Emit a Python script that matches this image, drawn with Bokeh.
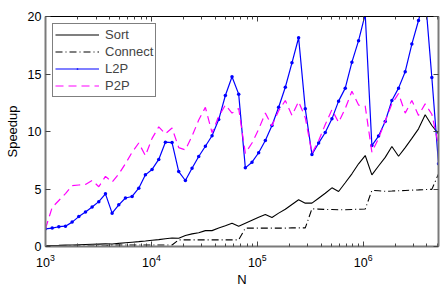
from bokeh.plotting import figure
from bokeh.models import Range1d, FixedTicker, LogAxis, LinearAxis, LogTickFormatter, Legend
from bokeh.embed import file_html
from bokeh.resources import INLINE

# problem sizes N
N = [1000, 1156, 1336, 1544, 1785, 2063, 2385, 2756, 3186, 3683,
     4256, 4920, 5687, 6573, 7598, 8780, 10148, 11730, 13560, 15670,
     18113, 20940, 24200, 27980, 32340, 37380, 43210, 49940, 57720, 66720,
     77120, 89140, 103000, 119100, 137600, 159100, 183900, 212500, 245600, 283900,
     328100, 379300, 438400, 506700, 585700, 677000, 782500, 904500, 1045000, 1208000,
     1396000, 1614000, 1866000, 2157000, 2493000, 2881000, 3330000, 3849000, 4449000, 5142000]

sort_speedup = [0.08, 0.09, 0.10, 0.12, 0.13, 0.15, 0.17, 0.19, 0.21, 0.23,
                0.22, 0.27, 0.32, 0.37, 0.42, 0.48, 0.55, 0.60, 0.68, 0.74,
                0.72, 0.95, 1.10, 1.20, 1.38, 1.38, 1.60, 1.80, 2.03, 1.77,
                2.03, 2.29, 2.55, 2.78, 2.52, 2.90, 3.24, 3.65, 4.06, 3.77,
                3.77, 4.20, 4.63, 5.10, 4.78, 5.54, 6.32, 7.19, 7.91, 6.23,
                7.00, 7.75, 8.70, 7.85, 8.60, 9.40, 10.23, 11.45, 10.52, 9.80]

connect_speedup = [0.03, 0.03, 0.03, 0.03, 0.03, 0.03, 0.03, 0.03, 0.03, 0.03,
                   0.13, 0.13, 0.13, 0.13, 0.13, 0.13, 0.13, 0.13, 0.13, 0.13,
                   0.58, 0.58, 0.58, 0.58, 0.58, 0.58, 0.58, 0.58, 0.58, 0.58,
                   1.60, 1.60, 1.60, 1.60, 1.60, 1.60, 1.60, 1.62, 1.62, 1.62,
                   3.28, 3.25, 3.22, 3.22, 3.20, 3.20, 3.22, 3.24, 3.26, 4.87,
                   4.85, 4.80, 4.82, 4.85, 4.87, 4.90, 4.92, 4.95, 4.97, 6.30]

l2p_speedup = [1.54, 1.60, 1.72, 1.77, 2.12, 2.60, 3.00, 3.43, 3.90, 4.58,
               2.90, 3.62, 4.22, 4.35, 5.07, 6.23, 6.70, 7.57, 9.07, 9.04,
               6.52, 5.74, 6.80, 7.83, 8.72, 9.63, 11.04, 13.13, 14.76, 13.25,
               6.84, 7.33, 8.15, 9.22, 10.52, 12.11, 13.85, 15.97, 18.15, 11.97,
               8.00, 8.99, 9.91, 11.10, 12.64, 13.77, 16.03, 17.90, 20.20, 8.78,
               9.60, 10.87, 12.70, 13.77, 15.20, 17.60, 19.65, 21.80, 14.70, 7.20]

p2p_speedup = [1.55, 3.40, 4.00, 4.60, 5.30, 5.35, 5.40, 5.75, 5.20, 6.10,
               5.60, 6.30, 7.20, 8.20, 9.00, 7.90, 9.40, 10.40, 9.80, 10.30,
               8.60, 8.40, 9.60, 11.00, 12.10, 9.90, 11.30, 12.30, 11.60, 12.00,
               8.10, 9.00, 10.20, 11.60, 10.50, 11.80, 12.70, 11.40, 12.60, 11.20,
               8.10, 9.20, 10.60, 11.90, 10.80, 12.00, 13.50, 12.30, 12.20, 8.20,
               9.40, 10.90, 12.40, 13.30, 11.60, 12.70, 11.40, 12.40, 11.50, 8.80]

x_major = [1e3, 1e4, 1e5, 1e6]
x_minor = [m * d for d in (1e3, 1e4, 1e5, 1e6) for m in range(2, 10)]
y_major = [0, 5, 10, 15, 20]

FONT = "Liberation Sans"
AXIS_GRAY = "#7a7a7a"

p = figure(width=447, height=289, x_axis_type="log",
           x_range=Range1d(N[0], N[-1]), y_range=Range1d(0, 20),
           output_backend="svg", toolbar_location=None,
           min_border_left=45, min_border_right=9, min_border_top=16, min_border_bottom=43,
           background_fill_color="white", border_fill_color="white")
p.grid.visible = False
p.outline_line_color = None

r_sort = p.line(N, sort_speedup, line_color="black", line_width=1.1)
r_conn = p.line(N, connect_speedup, line_color="black", line_width=1.1, line_dash="7 3 1 3")
r_l2p = p.line(N, l2p_speedup, line_color="#0000ff", line_width=1.2)
r_l2pm = p.scatter(N, l2p_speedup, marker="dot", size=14, line_color="#0000ff", fill_color="#0000ff")
r_p2p = p.line(N, p2p_speedup, line_color="#ff00ff", line_width=1.2, line_dash="8 5")

legend = Legend(items=[("Sort", [r_sort]), ("Connect", [r_conn]),
                       ("L2P", [r_l2p, r_l2pm]), ("P2P", [r_p2p])],
                location="top_left", margin=7, padding=2, spacing=0,
                glyph_width=44, glyph_height=17, label_height=17, label_standoff=6,
                label_text_font=FONT, label_text_font_size="13px",
                border_line_color="black", border_line_width=1,
                background_fill_color="white", background_fill_alpha=1.0)
p.add_layout(legend)

def style_axis(ax, show_labels=True, line_color=AXIS_GRAY, line_width=2):
    ax.axis_line_color = line_color
    ax.axis_line_width = line_width
    ax.major_tick_in = 5
    ax.major_tick_out = 0
    ax.minor_tick_in = 3
    ax.minor_tick_out = 0
    ax.major_tick_line_color = "#444444"
    ax.minor_tick_line_color = "#444444"
    ax.major_label_text_font = FONT
    ax.major_label_text_font_size = "12.5px" if show_labels else "1px"
    ax.major_label_text_color = "black" if show_labels else None
    ax.axis_label_text_font = FONT
    ax.axis_label_text_font_size = "13px"
    ax.axis_label_text_font_style = "normal"
    ax.axis_label_text_color = "black"

xa = p.xaxis[0]
xa.ticker = FixedTicker(ticks=x_major, minor_ticks=x_minor)
xa.formatter = LogTickFormatter()
style_axis(xa)
xa.major_label_standoff = 7
xa.axis_label = "N"
xa.axis_label_standoff = 2

ya = p.yaxis[0]
ya.ticker = FixedTicker(ticks=y_major)
style_axis(ya)
ya.major_label_standoff = 4
ya.axis_label = "Speedup"
ya.axis_label_standoff = 5

top = LogAxis(ticker=FixedTicker(ticks=x_major, minor_ticks=x_minor), formatter=LogTickFormatter())
style_axis(top, show_labels=False, line_color="black", line_width=1)
top.major_label_standoff = 0
p.add_layout(top, "above")

right = LinearAxis(ticker=FixedTicker(ticks=y_major))
style_axis(right, show_labels=False)
right.major_label_standoff = 0
p.add_layout(right, "right")

open("out.html", "w").write(file_html(p, INLINE))
